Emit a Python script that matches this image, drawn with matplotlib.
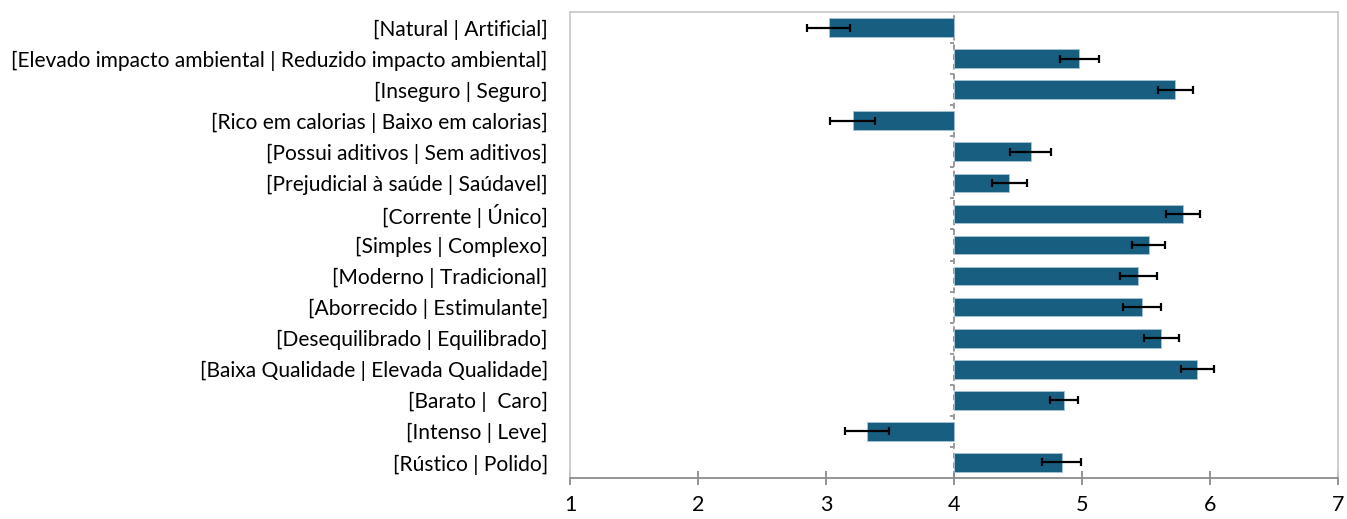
import numpy as np
import matplotlib.pyplot as plt

labels = [
    '[Natural | Artificial]',
    '[Elevado impacto ambiental | Reduzido impacto ambiental]',
    '[Inseguro | Seguro]',
    '[Rico em calorias | Baixo em calorias]',
    '[Possui aditivos | Sem aditivos]',
    '[Prejudicial à saúde | Saúdavel]',
    '[Corrente | Único]',
    '[Simples | Complexo]',
    '[Moderno | Tradicional]',
    '[Aborrecido | Estimulante]',
    '[Desequilibrado | Equilibrado]',
    '[Baixa Qualidade | Elevada Qualidade]',
    '[Barato |  Caro]',
    '[Intenso | Leve]',
    '[Rústico | Polido]',
]
means = [3.02, 4.98, 5.73, 3.21, 4.60, 4.43, 5.79, 5.52, 5.44, 5.47, 5.62,
         5.90, 4.86, 3.32, 4.84]
errors = [0.165, 0.15, 0.14, 0.175, 0.16, 0.137, 0.13, 0.13, 0.145, 0.15,
          0.135, 0.13, 0.11, 0.17, 0.15]
midpoint = 4
xticks = [1, 2, 3, 4, 5, 6, 7]

plt.rcParams['font.family'] = ['Lato', 'DejaVu Sans']

fig = plt.figure(figsize=(13.47, 5.19), dpi=100)
ax = fig.add_axes([570 / 1347, 1 - 478 / 519, 768 / 1347, 466 / 519])

y = np.arange(len(labels))
means = np.array(means)
ax.barh(y, means - midpoint, left=midpoint, height=0.6, color='#175e80',
        edgecolor='#a9c4d4', linewidth=0.6, zorder=2)
ax.errorbar(means, y, xerr=errors, fmt='none', ecolor='black',
            elinewidth=1.6, capsize=3, capthick=1.6, zorder=3)

ax.set_xlim(1, 7)
ax.set_ylim(len(labels) - 0.5, -0.5)
ax.set_xticks(xticks)
ax.set_yticks(y)
ax.set_yticklabels(labels)
ax.tick_params(axis='y', length=0, pad=16, labelsize=15.1)
ax.tick_params(axis='x', direction='inout', length=10, width=1.3,
               color='#8c8c8c', labelsize=15.5, pad=7)

for side in ['top', 'right', 'left']:
    ax.spines[side].set_color('#cccccc')
    ax.spines[side].set_linewidth(1.3)
ax.spines['bottom'].set_color('#8c8c8c')
ax.spines['bottom'].set_linewidth(1.3)

# category axis crossing at the midpoint, dashed, with separator ticks
ax.axvline(midpoint, color='#9a9a9a', linewidth=1.4,
           linestyle=(0, (3, 2)), zorder=1)
bounds = np.arange(len(labels) + 1) - 0.5
ax.hlines(bounds[:-1], midpoint - 0.035, midpoint, color='#9a9a9a',
          linewidth=1.4, zorder=1)

fig.savefig('out.png', dpi=100)
